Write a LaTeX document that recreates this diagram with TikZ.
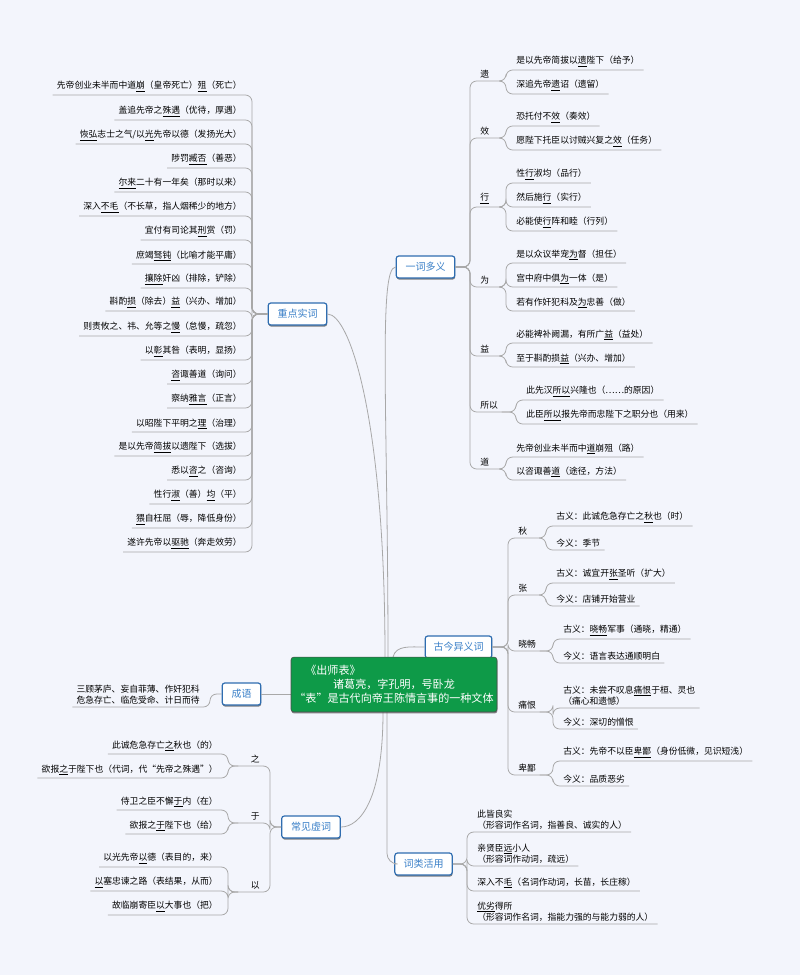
\documentclass[tikz,border=0pt]{standalone}
\usepackage{fontspec}
\setmainfont{Noto Sans CJK SC}
\usetikzlibrary{shadows}
\definecolor{bg}{HTML}{F3F5FC}
\definecolor{lineg}{HTML}{A8A8A8}
\definecolor{boxb}{HTML}{2F6DB0}
\definecolor{boxt}{HTML}{3A80C8}
\definecolor{grn}{HTML}{0E9A48}
\newcommand\uu[1]{\underline{#1}}
\newcommand\leafR[5]{\node[leaf,anchor=south west] (#1) at (#2+10,#3) {#4};
 \draw[conn,rounded corners=5pt] (#5) -| (#2,#3) -- ([xshift=3pt]#1.south east);}
\newcommand\leafL[5]{\node[leaf,anchor=south east] (#1) at (#2-10,#3) {#4};
 \draw[conn,rounded corners=5pt] (#5) -| (#2,#3) -- ([xshift=-3pt]#1.south west);}
\tikzset{
 leaf/.style={font=\fontsize{6.6}{8.5}\selectfont, inner xsep=0pt, inner ysep=1.8pt, align=left},
 labR/.style={leaf, text width=16pt},
 labL/.style={leaf, text width=16pt, align=right},
 conn/.style={draw=lineg, line width=0.6pt},
 mbox/.style={draw=boxb, line width=0.9pt, fill=white, rounded corners=2pt, text=boxt,
  font=\fontsize{7.5}{9}\selectfont, minimum height=16.5pt, inner sep=1pt,
  drop shadow={shadow xshift=0.3pt, shadow yshift=-1.2pt, opacity=0.7, fill=black!70}}
}
\begin{document}
\begin{tikzpicture}[x=0.75pt,y=-0.75pt]
\path[fill=bg] (0,0) rectangle (800,975);
\useasboundingbox (0,0) rectangle (800,975);

% main boxes
\node[mbox, minimum width=44pt] (yi) at (425.5,267) {一词多义};
\node[mbox, minimum width=44pt] (zd) at (297.5,314) {重点实词};
\node[mbox, minimum width=50pt] (gj) at (458.5,647) {古今异义词};
\node[mbox, minimum width=29pt] (cy) at (241.5,694) {成语};
\node[mbox, minimum width=44pt] (xc) at (311,827) {常见虚词};
\node[mbox, minimum width=43pt] (cl) at (423.5,864) {词类活用};

% center connections
\draw[conn] (388,657) .. controls (388,420) and (378,267) .. (yi.west);
\draw[conn] (385,657) .. controls (385,420) and (350,314) .. (zd.east);
\draw[conn] (393,657) .. controls (396,645) and (410,647) .. (gj.west);
\draw[conn] (383,712) .. controls (383,800) and (360,827) .. (xc.east);
\draw[conn,rounded corners=8pt] (387,712) |- (cl.west);
\draw[conn] (291,694) -- (cy.east);

\node[draw=black!70, fill=grn, rounded corners=2pt, minimum width=154.5pt, minimum height=41pt,
  text=white, font=\fontsize{8.3}{10.5}\selectfont, align=center, inner sep=1pt,
  drop shadow={shadow xshift=0.3pt, shadow yshift=-1.2pt, opacity=0.7, fill=black!70}]
  (ctr) at (394,684.5) {\makebox[145pt][l]{\hspace{6pt}《出师表》}\\诸葛亮，字孔明，号卧龙\\“表”是古代向帝王陈情言事的一种文体};

% ---------- 重点实词
\leafL{z1}{252}{95}{先帝创业未半而中道\uu{崩}（皇帝死亡）\uu{殂}（死亡）}{zd.west}
\leafL{z2}{252}{120}{盖追先帝之\uu{殊遇}（优待，厚遇）}{zd.west}
\leafL{z3}{252}{144}{\uu{恢弘}志士之气/以\uu{光}先帝以德（发扬光大）}{zd.west}
\leafL{z4}{252}{168}{陟罚\uu{臧否}（善恶）}{zd.west}
\leafL{z5}{252}{192}{\uu{尔来}二十有一年矣（那时以来）}{zd.west}
\leafL{z6}{252}{216}{深入\uu{不毛}（不长草，指人烟稀少的地方）}{zd.west}
\leafL{z7}{252}{240}{宜付有司论其\uu{刑}赏（罚）}{zd.west}
\leafL{z8}{252}{264}{庶竭\uu{驽钝}（比喻才能平庸）}{zd.west}
\leafL{z9}{252}{288}{\uu{攘除}奸凶（排除，铲除）}{zd.west}
\leafL{z10}{252}{311}{斟酌\uu{损}（除去）\uu{益}（兴办、增加）}{zd.west}
\leafL{z11}{252}{336}{则责攸之、祎、允等之\uu{慢}（怠慢，疏忽）}{zd.west}
\leafL{z12}{252}{360}{以\uu{彰}其咎（表明，显扬）}{zd.west}
\leafL{z13}{252}{384}{\uu{咨}诹善道（询问）}{zd.west}
\leafL{z14}{252}{408}{察纳\uu{雅言}（正言）}{zd.west}
\leafL{z15}{252}{432}{以昭陛下平明之\uu{理}（治理）}{zd.west}
\leafL{z16}{252}{456}{是以先帝\uu{简拔}以遗陛下（选拔）}{zd.west}
\leafL{z17}{252}{480}{悉以\uu{咨}之（咨询）}{zd.west}
\leafL{z18}{252}{504}{性行\uu{淑}（善）\uu{均}（平）}{zd.west}
\leafL{z19}{252}{528}{\uu{猥}自枉屈（辱，降低身份）}{zd.west}
\leafL{z20}{252}{552}{遂许先帝以\uu{驱驰}（奔走效劳）}{zd.west}

% ---------- 一词多义
\node[labR,anchor=south west] (ya) at (480,81) {遗};
\node[labR,anchor=south west] (yb) at (480,138) {效};
\node[labR,anchor=south west] (yc) at (480,207) {\uu{行}};
\node[labR,anchor=south west] (yd) at (480,287) {为};
\node[labR,anchor=south west] (ye) at (480,356) {益};
\node[labR,anchor=south west] (yf) at (480,412) {所以};
\node[labR,anchor=south west] (yg) at (480,469) {道};
\foreach \n in {ya,yb,yc,yd,ye,yf,yg}{
 \draw[conn,rounded corners=5pt] (yi.east) -| ([xshift=-7.5pt]\n.south west) -- (\n.south east);
 \coordinate (p\n) at (\n.south east);}
\leafR{ya1}{506}{70}{是以先帝简拔以\uu{遗}陛下（给予）}{pya}
\leafR{ya2}{506}{94}{深追先帝\uu{遗}诏（遗留）}{pya}
\leafR{yb1}{506}{126}{恐托付不\uu{效}（奏效）}{pyb}
\leafR{yb2}{506}{150}{愿陛下托臣以讨贼兴复之\uu{效}（任务）}{pyb}
\leafR{yc1}{506}{183}{性\uu{行}淑均（品行）}{pyc}
\leafR{yc2}{506}{207}{然后施\uu{行}（实行）}{pyc}
\leafR{yc3}{506}{231}{必能使\uu{行}阵和睦（行列）}{pyc}
\leafR{yd1}{506}{263}{是以众议举宠\uu{为}督（担任）}{pyd}
\leafR{yd2}{506}{287}{宫中府中俱\uu{为}一体（是）}{pyd}
\leafR{yd3}{506}{311}{若有作奸犯科及\uu{为}忠善（做）}{pyd}
\leafR{ye1}{506}{343}{必能裨补阙漏，有所广\uu{益}（益处）}{pye}
\leafR{ye2}{506}{367}{至于斟酌损\uu{益}（兴办、增加）}{pye}
\leafR{yf1}{516}{400}{此先汉\uu{所以}兴隆也（……的原因）}{pyf}
\leafR{yf2}{516}{424}{此臣\uu{所以}报先帝而忠陛下之职分也（用来）}{pyf}
\leafR{yg1}{506}{457}{先帝创业未半而中\uu{道}崩殂（路）}{pyg}
\leafR{yg2}{506}{480}{以咨诹善\uu{道}（途径，方法）}{pyg}

% ---------- 古今异义词
\node[labR,anchor=south west] (ga) at (518,538) {秋};
\node[labR,anchor=south west] (gb) at (518,595) {张};
\node[labR,anchor=south west] (gc) at (518,651) {晓畅};
\node[labR,anchor=south west] (gd) at (518,712) {痛恨};
\node[labR,anchor=south west] (ge) at (518,775) {卑鄙};
\foreach \n in {ga,gb,gc,gd,ge}{
 \draw[conn,rounded corners=5pt] (gj.east) -| ([xshift=-7.5pt]\n.south west) -- (\n.south east);
 \coordinate (p\n) at (\n.south east);}
\leafR{ga1}{546}{526}{古义：此诚危急存亡之\uu{秋}也（时）}{pga}
\leafR{ga2}{546}{550}{今义：季节}{pga}
\leafR{gb1}{546}{583}{古义：诚宜开\uu{张}圣听（扩大）}{pgb}
\leafR{gb2}{546}{606}{今义：店铺开始营业}{pgb}
\leafR{gc1}{553}{639}{古义：\uu{晓畅}军事（通晓，精通）}{pgc}
\leafR{gc2}{553}{663}{今义：语言表达通顺明白}{pgc}
\leafR{gd1}{553}{708}{古义：未尝不叹息\uu{痛恨}于桓、灵也\\（痛心和遗憾）}{pgd}
\leafR{gd2}{553}{729}{今义：深切的憎恨}{pgd}
\leafR{ge1}{553}{761}{古义：先帝不以臣\uu{卑鄙}（身份低微，见识短浅）}{pge}
\leafR{ge2}{553}{786}{今义：品质恶劣}{pge}

% ---------- 词类活用
\leafR{c1}{467}{832}{此皆良实\\（形容词作名词，指善良、诚实的人）}{cl.east}
\leafR{c2}{467}{866}{亲贤臣\uu{远}小人\\（形容词作动词，疏远）}{cl.east}
\leafR{c3}{467}{891}{深入不\uu{毛}（名词作动词，长苗，长庄稼）}{cl.east}
\leafR{c4}{467}{924}{\uu{优劣}得所\\（形容词作名词，指能力强的与能力弱的人）}{cl.east}

% ---------- 成语
\leafL{cy1}{210}{707}{三顾茅庐、妄自菲薄、作奸犯科\\危急存亡、临危受命、计日而待}{cy.west}

% ---------- 常见虚词
\node[labL,anchor=south east] (xa) at (260,766) {之};
\node[labL,anchor=south east] (xb) at (260,823) {于};
\node[labL,anchor=south east] (xd) at (260,892) {以};
\foreach \n in {xa,xb,xd}{
 \draw[conn,rounded corners=5pt] (xc.west) -| ([xshift=7.5pt]\n.south east) -- (\n.south west);
 \coordinate (p\n) at (\n.south west);}
\leafL{xa1}{228}{754}{此诚危急存亡\uu{之}秋也（的）}{pxa}
\leafL{xa2}{228}{778}{欲报\uu{之}于陛下也（代词，代“先帝之殊遇”）}{pxa}
\leafL{xb1}{228}{810}{侍卫之臣不懈\uu{于}内（在）}{pxb}
\leafL{xb2}{228}{834}{欲报之\uu{于}陛下也（给）}{pxb}
\leafL{xd1}{228}{867}{以光先帝\uu{以}德（表目的，来）}{pxd}
\leafL{xd2}{228}{891}{\uu{以}塞忠谏之路（表结果，从而）}{pxd}
\leafL{xd3}{228}{915}{故临崩寄臣\uu{以}大事也（把）}{pxd}
\end{tikzpicture}
\end{document}
